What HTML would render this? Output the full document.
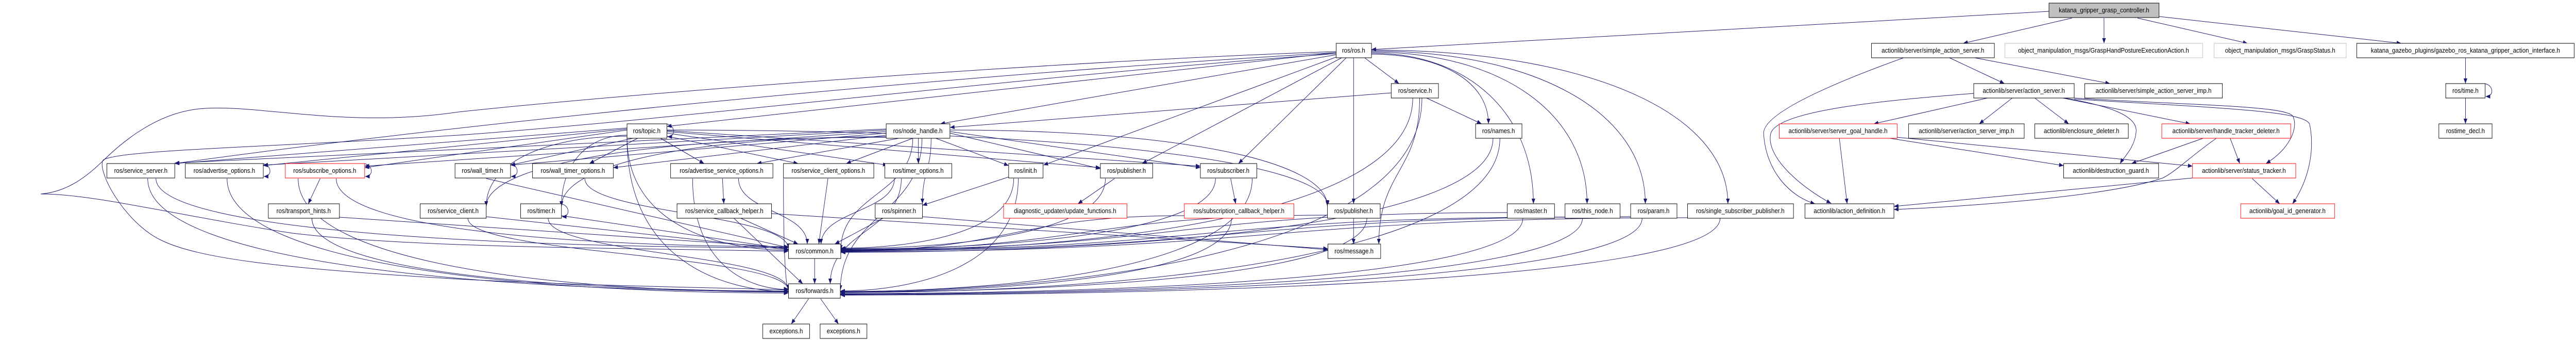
<!DOCTYPE html>
<html><head><meta charset="utf-8"><meta name="viewport" content="width=5616"><style>
html,body{margin:0;padding:0;background:#fff;width:100%;height:100%;overflow:hidden;}
svg{display:block;position:absolute;left:0;top:0;width:100vw;height:100vh;}
text{font-family:"Liberation Sans",sans-serif;font-size:13px;text-anchor:middle;fill:#000;}
rect{fill:#fff;stroke:#000;stroke-width:1;}
rect.r{stroke:#ff0000;}
rect.g{stroke:#bfbfbf;}
rect.k{fill:#bfbfbf;}
path.e{fill:none;stroke:#191970;stroke-width:1;}
</style></head><body>
<svg id="s" viewBox="0 0 5616 659" preserveAspectRatio="none" xmlns="http://www.w3.org/2000/svg">
<defs><marker id="a" markerWidth="10" markerHeight="8" refX="10" refY="4" orient="auto" markerUnits="userSpaceOnUse"><path d="M0,0 L10,4 L0,8 z" fill="#191970"/></marker></defs>
<g id="edges">
<path class="e" marker-end="url(#a)" d="M2913,100 C2400,115 1500,170 1000,217 C750,250 560,200 434,211 C330,220 250,290 223,313 C180,350 140,372 89,376 C200,375 400,420 638,452 C900,480 1300,480 1719,487"/>
<path class="e" marker-end="url(#a)" d="M2913,104 C2200,150 1500,230 1000,262 C600,285 260,290 225,310 C210,330 270,430 350,465 C430,500 600,520 1000,541 C1300,555 1600,558 1719,562"/>
<path class="e" marker-end="url(#a)" d="M2913,102 C2000,150 1000,240 381,317"/>
<path class="e" marker-end="url(#a)" d="M4150,112 C4000,160 3840,220 3845,260 C3850,330 3900,380 3957,395"/>
<path class="e" marker-end="url(#a)" d="M4303,181 C4100,195 3870,215 3860,260 C3850,310 3940,370 3992,394"/>
<path class="e" marker-end="url(#a)" d="M4500,190 C4600,205 4660,225 4657,255 C4655,285 4630,305 4622,317"/>
<path class="e" marker-end="url(#a)" d="M4522,190 C4800,205 5000,205 5000,228 C5010,250 4990,290 4940,317"/>
<path class="e" marker-end="url(#a)" d="M4522,192 C4850,210 5020,215 5035,240 C5045,280 5040,340 4998,395"/>
<path class="e" marker-end="url(#a)" d="M4832,268 C4780,300 4740,335 4715,345 C4600,380 4300,400 4129,406"/>
<path class="e" marker-end="url(#a)" d="M564,318 C590,312 598,342 575,342"/>
<path class="e" marker-end="url(#a)" d="M785,318 C811,312 819,342 796,342"/>
<path class="e" marker-end="url(#a)" d="M1103,318 C1129,312 1137,342 1114,342"/>
<path class="e" marker-end="url(#a)" d="M1214,396 C1240,390 1248,420 1225,420"/>
<path class="e" marker-end="url(#a)" d="M1444,241 C1470,235 1478,265 1455,265"/>
<path class="e" marker-end="url(#a)" d="M5408,163 C5434,157 5442,187 5419,187"/>
</g>
<g>
<rect class="k" x="4467" y="6" width="240" height="28"/><text x="4587" y="24">katana_gripper_grasp_controller.h</text>
<rect x="4080" y="84" width="268" height="28"/><text x="4214" y="102">actionlib/server/simple_action_server.h</text>
<rect class="g" x="4371" y="84" width="431" height="28"/><text x="4586" y="102">object_manipulation_msgs/GraspHandPostureExecutionAction.h</text>
<rect class="g" x="4827" y="84" width="288" height="28"/><text x="4971" y="102">object_manipulation_msgs/GraspStatus.h</text>
<rect x="5138" y="84" width="474" height="28"/><text x="5375" y="102">katana_gazebo_plugins/gazebo_ros_katana_gripper_action_interface.h</text>
<rect x="2913" y="84" width="77" height="28"/><text x="2951" y="102">ros/ros.h</text>
<rect x="4303" y="162" width="219" height="28"/><text x="4412" y="180">actionlib/server/action_server.h</text>
<rect x="4545" y="162" width="300" height="28"/><text x="4695" y="180">actionlib/server/simple_action_server_imp.h</text>
<rect x="5332" y="162" width="86" height="28"/><text x="5375" y="180">ros/time.h</text>
<rect x="3033" y="162" width="103" height="28"/><text x="3085" y="180">ros/service.h</text>
<rect x="1367" y="240" width="87" height="28"/><text x="1410" y="258">ros/topic.h</text>
<rect x="1932" y="240" width="139" height="28"/><text x="2001" y="258">ros/node_handle.h</text>
<rect x="3217" y="240" width="101" height="28"/><text x="3267" y="258">ros/names.h</text>
<rect class="r" x="3879" y="240" width="257" height="28"/><text x="4007" y="258">actionlib/server/server_goal_handle.h</text>
<rect x="4161" y="240" width="252" height="28"/><text x="4287" y="258">actionlib/server/action_server_imp.h</text>
<rect x="4436" y="240" width="204" height="28"/><text x="4538" y="258">actionlib/enclosure_deleter.h</text>
<rect class="r" x="4713" y="240" width="281" height="28"/><text x="4853" y="258">actionlib/server/handle_tracker_deleter.h</text>
<rect x="5317" y="240" width="116" height="28"/><text x="5375" y="258">rostime_decl.h</text>
<rect x="233" y="317" width="148" height="28"/><text x="307" y="335">ros/service_server.h</text>
<rect x="404" y="317" width="170" height="28"/><text x="489" y="335">ros/advertise_options.h</text>
<rect class="r" x="622" y="317" width="173" height="28"/><text x="708" y="335">ros/subscribe_options.h</text>
<rect x="992" y="317" width="121" height="28"/><text x="1052" y="335">ros/wall_timer.h</text>
<rect x="1161" y="317" width="176" height="28"/><text x="1249" y="335">ros/wall_timer_options.h</text>
<rect x="1462" y="317" width="223" height="28"/><text x="1573" y="335">ros/advertise_service_options.h</text>
<rect x="1708" y="317" width="197" height="28"/><text x="1806" y="335">ros/service_client_options.h</text>
<rect x="1929" y="317" width="146" height="28"/><text x="2002" y="335">ros/timer_options.h</text>
<rect x="2199" y="317" width="75" height="28"/><text x="2236" y="335">ros/init.h</text>
<rect x="2399" y="317" width="114" height="28"/><text x="2456" y="335">ros/publisher.h</text>
<rect x="2617" y="317" width="123" height="28"/><text x="2678" y="335">ros/subscriber.h</text>
<rect x="4499" y="317" width="207" height="28"/><text x="4602" y="335">actionlib/destruction_guard.h</text>
<rect class="r" x="4780" y="317" width="225" height="28"/><text x="4892" y="335">actionlib/server/status_tracker.h</text>
<rect x="585" y="395" width="155" height="28"/><text x="662" y="413">ros/transport_hints.h</text>
<rect x="916" y="395" width="144" height="28"/><text x="988" y="413">ros/service_client.h</text>
<rect x="1135" y="395" width="89" height="28"/><text x="1180" y="413">ros/timer.h</text>
<rect x="1476" y="395" width="206" height="28"/><text x="1579" y="413">ros/service_callback_helper.h</text>
<rect x="1908" y="395" width="103" height="28"/><text x="1960" y="413">ros/spinner.h</text>
<rect class="r" x="2188" y="395" width="269" height="28"/><text x="2322" y="413">diagnostic_updater/update_functions.h</text>
<rect class="r" x="2582" y="395" width="239" height="28"/><text x="2701" y="413">ros/subscription_callback_helper.h</text>
<rect x="2894" y="395" width="115" height="28"/><text x="2951" y="413">ros/publisher.h</text>
<rect x="3286" y="395" width="103" height="28"/><text x="3337" y="413">ros/master.h</text>
<rect x="3412" y="395" width="120" height="28"/><text x="3472" y="413">ros/this_node.h</text>
<rect x="3555" y="395" width="101" height="28"/><text x="3605" y="413">ros/param.h</text>
<rect x="3679" y="395" width="231" height="28"/><text x="3794" y="413">ros/single_subscriber_publisher.h</text>
<rect x="3935" y="395" width="194" height="28"/><text x="4032" y="413">actionlib/action_definition.h</text>
<rect class="r" x="4885" y="395" width="205" height="28"/><text x="4987" y="413">actionlib/goal_id_generator.h</text>
<rect x="1719" y="473" width="114" height="28"/><text x="1776" y="491">ros/common.h</text>
<rect x="2895" y="473" width="115" height="28"/><text x="2952" y="491">ros/message.h</text>
<rect x="1719" y="550" width="113" height="28"/><text x="1776" y="568">ros/forwards.h</text>
<rect x="1663" y="628" width="102" height="28"/><text x="1714" y="646">exceptions.h</text>
<rect x="1788" y="628" width="102" height="28"/><text x="1839" y="646">exceptions.h</text>
</g>
</svg>
<script>
var E=[
[4467,22,2990,96,'l'],[4517,35,4280,84,'l'],[4587,35,4587,84,'l'],[4660,35,4900,84,'l'],[4707,32,5235,84,'l'],
[4250,112,4370,162,'l'],[4305,112,4600,162,'l'],
[4333,190,4085,240,'l'],[4387,190,4315,240,'l'],[4436,190,4510,240,'l'],[4497,190,4775,240,'l'],
[4010,268,4027,395,'l'],[4120,268,4499,321,'l'],[4136,266,4780,322,'l'],
[4803,268,4647,317,'l'],[4862,268,4883,317,'l'],[4780,345,4129,400,'l'],[4910,346,4970,395,'l'],
[5375,112,5375,162,'l'],[5375,190,5375,240,'l'],
[2975,112,3050,162,'l'],[3110,190,3230,240,'l'],
[2990,105,3245,240,'hv'],[2990,103,3343,395,'hv'],[2990,101,3460,395,'hv'],[2990,99,3587,395,'hv'],[2990,97,3767,395,'hv'],
[2951,112,2951,395,'l'],[2935,112,2700,317,'l'],[2925,112,2490,317,'l'],[2915,110,2275,320,'l'],[2913,106,2050,240,'l'],[2913,102,1454,245,'l'],
[3033,180,2071,247,'l'],
[3080,190,1833,487,'vh'],[3095,190,3006,473,'v'],[3100,190,1832,565,'vh'],
[3255,268,1833,489,'vh'],[3270,268,1832,567,'vh'],
[3286,412,1833,484,'h'],[3320,423,1832,569,'vh'],
[3412,421,1833,485,'h'],[3450,423,1832,570,'vh'],
[3555,420,1833,486,'h'],[3580,423,1832,571,'vh'],
[3679,422,1833,488,'h'],[3750,423,1832,572,'vh'],
[2951,423,2951,473,'l'],[2894,417,1833,484,'h'],[2980,423,1832,566,'vh'],
[2582,418,1833,486,'h'],[2685,423,1832,566,'vh'],
[2683,346,2694,395,'l'],[2650,346,1833,483,'vh'],[2730,346,1832,565,'vh'],
[2430,346,2350,395,'l'],[2410,346,1833,482,'vh'],
[2199,343,2011,398,'l'],[2210,346,1833,481,'vh'],[2220,346,1832,564,'vh'],
[2002,268,2002,317,'l'],[2040,268,2199,321,'l'],[2071,258,2399,327,'l'],[2071,255,2617,325,'l'],[2071,252,2894,400,'hv'],
[2030,268,2011,395,'v'],[1990,268,1845,317,'l'],[1960,268,1650,317,'l'],[1932,262,1337,325,'l'],[1932,258,1113,320,'l'],
[1932,265,1224,400,'hv'],[1932,266,1060,400,'hv'],[1932,255,795,322,'l'],[1932,252,574,320,'l'],[1932,250,381,316,'l'],
[1990,268,1833,485,'v'],[2010,268,1832,563,'v'],
[1380,268,1113,320,'l'],[1390,268,1285,317,'l'],[1440,268,1535,317,'l'],[1454,264,1740,317,'l'],[1454,258,1935,320,'l'],
[1454,255,2399,325,'l'],[1454,253,2617,322,'l'],[1454,252,2894,398,'hv'],
[1367,252,795,325,'l'],[1367,250,574,321,'l'],[1367,248,381,317,'l'],
[1367,262,1224,400,'hv'],[1367,264,1060,400,'hv'],[1367,266,1719,485,'vh'],[1367,268,1719,565,'vh'],
[1060,346,1719,480,'l'],[1275,346,1719,482,'v'],
[1224,418,1719,483,'l'],[1195,423,1719,562,'v'],
[1060,420,1719,484,'l'],[1020,423,1719,563,'v'],
[1575,346,1578,395,'l'],[1610,346,1760,473,'v'],[1510,346,1719,561,'vh'],
[1805,346,1785,473,'l'],[1708,346,1719,560,'vh'],
[1615,423,1740,473,'l'],[1600,423,1750,550,'l'],[1682,414,2895,482,'l'],
[1950,346,1790,473,'v'],[1965,346,1810,550,'v'],
[1925,423,1820,473,'l'],[2011,420,2895,484,'l'],
[1776,501,1776,550,'l'],[1763,579,1725,628,'l'],[1789,579,1828,628,'l'],
[340,346,1719,480,'vh'],[322,346,1719,565,'vh'],[495,346,1719,568,'vh'],
[698,346,672,395,'l'],[733,346,1719,478,'vh'],[650,346,1719,566,'vh'],
[740,421,1719,480,'l'],[680,423,1719,564,'vh']
];
var g=document.getElementById('edges'),ns='http://www.w3.org/2000/svg';
E.forEach(function(e){
var x1=e[0],y1=e[1],x2=e[2],y2=e[3],m=e[4],dx=x2-x1,dy=y2-y1,d;
if(m=='l')d='M'+x1+','+y1+' L'+x2+','+y2;
else if(m=='v'){var ym=(y1+y2)/2;d='M'+x1+','+y1+' C'+x1+','+ym+' '+x2+','+ym+' '+x2+','+y2;}
else if(m=='h'){var xm=(x1+x2)/2;d='M'+x1+','+y1+' C'+xm+','+y1+' '+xm+','+y2+' '+x2+','+y2;}
else if(m=='hv'){d='M'+x1+','+y1+' C'+(x1+dx*0.6)+','+y1+' '+x2+','+(y1+dy*0.4)+' '+x2+','+y2;}
else {d='M'+x1+','+y1+' C'+x1+','+(y1+dy*0.8)+' '+(x1+dx*0.6)+','+y2+' '+x2+','+y2;}
var p=document.createElementNS(ns,'path');p.setAttribute('class','e');p.setAttribute('d',d);p.setAttribute('marker-end','url(#a)');g.appendChild(p);
});
</script>
</body></html>
